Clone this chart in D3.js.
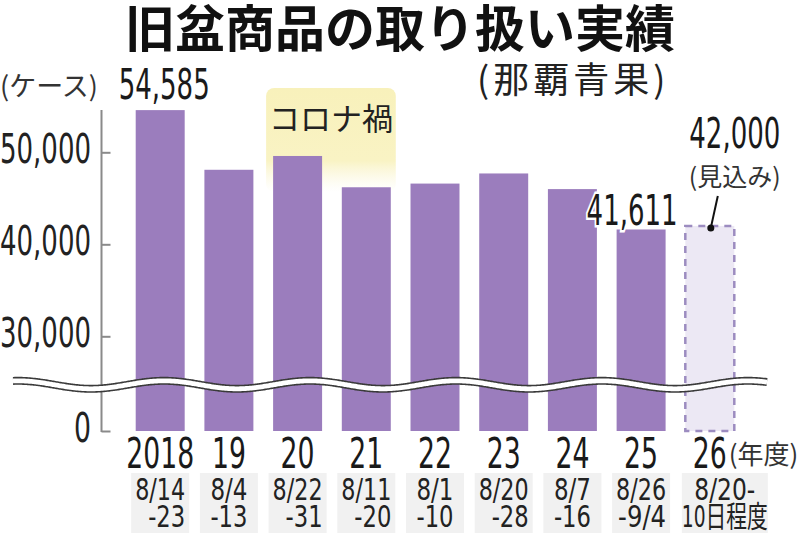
<!DOCTYPE html>
<html>
<head>
<meta charset="utf-8">
<script src="https://cdn.jsdelivr.net/npm/d3@7"></script>
<style>
  body { margin: 0; background: #fff; }
  svg { display: block; }
</style>
</head>
<body>
<svg width="800" height="533"></svg>
<script>
// 旧盆商品の取り扱い実績（那覇青果）  単位: ケース
const years = ["2018", "19", "20", "21", "22", "23", "24", "25", "26"];
const periodTop = ["8/14", "8/4", "8/22", "8/11", "8/1", "8/20", "8/7", "8/26", "8/20-"];
const periodBottom = ["-23", "-13", "-31", "-20", "-10", "-28", "-16", "-9/4", "10日程度"];
const cases = [54585, 48100, 49600, 46200, 46600, 47700, 46000, 41611, 42000];
const isForecast = [false, false, false, false, false, false, false, false, true];
const yTicks = [0, 30000, 40000, 50000];
const covidYears = ["20", "21"];
const labelled = {"2018": "54,585", "25": "41,611", "26": "42,000"};

const NUM = "'Liberation Sans Narrow','DejaVu Sans Condensed','Noto Sans CJK JP',sans-serif";
const JP = "'Noto Sans CJK JP',sans-serif";
const purple = "#9b7dbd";

const svg = d3.select("svg");
svg.append("rect").attr("width", 800).attr("height", 533).attr("fill", "#fff");

// x: one band per year, y: broken scale (0..25,000 squeezed below the wave)
const x = d3.scaleBand().domain(years).range([135.7, 734.3]).paddingInner(0.287).paddingOuter(0);
const y = d3.scaleLinear().domain([0, 25000, 60000]).range([431, 382.3, 60.3]);
const cx = d => x(d) + x.bandwidth() / 2;
// period labels of the forecast year sit a little to the right
const px = (d, i) => isForecast[i] ? cx(d) + 15 : cx(d);

// the newspaper face is very condensed: force widths per character
const bigW = {d: 17, p: 6, o: 12, c: 22};
const smallW = {d: 13, p: 11, o: 11, c: 20};
function textW(s, w) {
  let t = 0;
  for (const ch of s) {
    if (/[0-9]/.test(ch)) t += w.d;
    else if (ch === "," || ch === ".") t += w.p;
    else if (/[\u3000-\u9fff]/.test(ch)) t += w.c;
    else t += w.o;
  }
  return t;
}
function condensed(sel, s, w) {
  return sel.text(s).attr("textLength", textW(s, w)).attr("lengthAdjust", "spacingAndGlyphs");
}

// title
svg.append("text").attr("x", 125).attr("y", 47)
  .style("font-family", JP).style("font-size", "50px").style("font-weight", "bold")
  .attr("fill", "#111").text("旧盆商品の取り扱い実績");
svg.append("text").attr("x", 477).attr("y", 93)
  .style("font-family", JP).style("font-size", "36px").style("letter-spacing", "4px")
  .attr("fill", "#222").text("(那覇青果)");
svg.append("text").attr("x", 0).attr("y", 96)
  .style("font-family", JP).style("font-size", "27px")
  .attr("fill", "#333").text("(ケース)");

// corona highlight
const grad = svg.append("defs").append("linearGradient").attr("id", "covid")
  .attr("x1", 0).attr("y1", 0).attr("x2", 0).attr("y2", 1);
grad.append("stop").attr("offset", "0%").attr("stop-color", "#f8f1bb");
grad.append("stop").attr("offset", "70%").attr("stop-color", "#f9f3c4");
grad.append("stop").attr("offset", "100%").attr("stop-color", "#fbf8e0").attr("stop-opacity", 0);
const cx0 = x(covidYears[0]) - 7, cx1 = x(covidYears[1]) + x.bandwidth() + 5;
svg.append("rect").attr("x", cx0).attr("y", 88).attr("width", cx1 - cx0).attr("height", 104)
  .attr("rx", 8).attr("fill", "url(#covid)");
svg.append("text").attr("x", (cx0 + cx1) / 2).attr("y", 130).attr("text-anchor", "middle")
  .style("font-family", JP).style("font-size", "31px").attr("fill", "#222").text("コロナ禍");

// date boxes
svg.append("g").selectAll("rect").data(years).join("rect")
  .attr("x", (d, i) => px(d, i) - (isForecast[i] ? 43 : 29)).attr("y", 473)
  .attr("width", (d, i) => isForecast[i] ? 86 : 58).attr("height", 60)
  .attr("fill", "#f1f1f1");

// bars
svg.append("g").selectAll("rect").data(years).join("rect")
  .attr("x", d => x(d))
  .attr("y", (d, i) => y(cases[i]))
  .attr("width", x.bandwidth())
  .attr("height", (d, i) => y(0) - y(cases[i]))
  .attr("fill", (d, i) => isForecast[i] ? "#ece8f4" : purple)
  .attr("stroke", (d, i) => isForecast[i] ? "#9c8cc0" : "none")
  .attr("stroke-width", 2.5)
  .attr("stroke-dasharray", (d, i) => isForecast[i] ? "7,6" : null);

// y axis (ticks point inward)
const axis = svg.append("g").attr("transform", "translate(101.5,0)")
  .call(d3.axisRight(y).tickValues(yTicks).tickSize(9).tickFormat(""));
axis.select(".domain").remove();
axis.selectAll("line").attr("stroke", "#8a8a8a").attr("stroke-width", 2);
axis.append("line").attr("y1", y(cases[0])).attr("y2", y(0) + 1)
  .attr("stroke", "#8a8a8a").attr("stroke-width", 2);

svg.append("g").selectAll("text").data(yTicks).join("text")
  .attr("x", 91).attr("y", t => y(t) + 11)
  .attr("text-anchor", "end")
  .style("font-family", NUM).style("font-size", "40px").attr("fill", "#222")
  .each(function (t) { condensed(d3.select(this), d3.format(",")(t), bigW); });

// wave break line
const waveX = d3.range(13, 769, 2);
const wave = d3.line().curve(d3.curveBasis)
  .x(d => d).y(d => y(25000) + 2.5 - 4 * Math.cos(2 * Math.PI * (d - 164) / 146));
svg.append("path").attr("d", wave(waveX)).attr("fill", "none")
  .attr("stroke", "#3a3a3a").attr("stroke-width", 8);
svg.append("path").attr("d", wave(waveX)).attr("fill", "none")
  .attr("stroke", "#fff").attr("stroke-width", 4.8);

// year labels
svg.append("g").selectAll("text").data(years).join("text")
  .attr("x", cx).attr("y", 468)
  .attr("text-anchor", "middle")
  .style("font-family", NUM).style("font-size", "42px").attr("fill", "#1a1a1a")
  .each(function (d) { condensed(d3.select(this), d, bigW); });
svg.append("text").attr("x", cx("26") + 19).attr("y", 464)
  .style("font-family", JP).style("font-size", "26px").attr("fill", "#333").text("(年度)");

// period labels (second line right-aligned under the first; forecast centred)
const pg = svg.append("g").style("font-family", NUM).style("font-size", "30px").attr("fill", "#222");
years.forEach((d, i) => {
  const p = px(d, i);
  condensed(pg.append("text"), periodTop[i], smallW)
    .attr("x", p).attr("y", 500).attr("text-anchor", "middle");
  const w = textW(periodTop[i], smallW);
  const bot = condensed(pg.append("text"), periodBottom[i], smallW).attr("y", 527);
  if (isForecast[i]) bot.attr("x", p).attr("text-anchor", "middle");
  else bot.attr("x", p + w / 2).attr("text-anchor", "end");
});

// value labels
const vg = svg.append("g").style("font-family", NUM).style("font-size", "42px").attr("fill", "#1a1a1a");
years.forEach((d, i) => {
  if (!labelled[d]) return;
  const t = condensed(vg.append("text"), labelled[d], bigW).attr("text-anchor", "middle");
  if (i === 0) t.attr("x", cx(d) + 4).attr("y", y(cases[i]) - 11);
  else if (isForecast[i]) t.attr("x", cx(d) + 25).attr("y", 148);
  else t.attr("x", cx(d) - 9).attr("y", y(cases[i]) - 4)
    .attr("stroke", "#fff").attr("stroke-width", 5).attr("paint-order", "stroke");
});

// forecast note and leader
const fi = isForecast.indexOf(true);
svg.append("text").attr("x", cx(years[fi]) + 25).attr("y", 186).attr("text-anchor", "middle")
  .style("font-family", JP).style("font-size", "25px").attr("fill", "#333").text("(見込み)");
svg.append("line").attr("x1", cx(years[fi]) + 8).attr("y1", 196)
  .attr("x2", cx(years[fi]) + 1).attr("y2", y(cases[fi]) + 2)
  .attr("stroke", "#111").attr("stroke-width", 2);
svg.append("circle").attr("cx", cx(years[fi]) + 1).attr("cy", y(cases[fi]) + 2).attr("r", 3.5)
  .attr("fill", "#111");
</script>
</body>
</html>
